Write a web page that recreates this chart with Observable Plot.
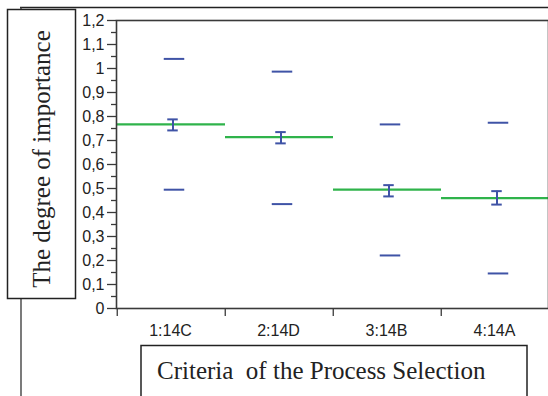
<!DOCTYPE html>
<html>
<head>
<meta charset="utf-8">
<script src="https://cdn.jsdelivr.net/npm/d3@7"></script>
<script src="https://cdn.jsdelivr.net/npm/@observablehq/plot@0.6"></script>
<style>
  html, body { margin: 0; padding: 0; background: #fff; overflow: hidden; }
  #chart { position: relative; width: 548px; height: 396px; overflow: hidden; }
  #chart svg { overflow: hidden; }
</style>
</head>
<body>
<div id="chart"></div>
<script>
// ---- data ----
const categories = ["1:14C", "2:14D", "3:14B", "4:14A"];
const means      = [0.767, 0.714, 0.495, 0.460];
const errHigh    = [0.788, 0.735, 0.514, 0.489];
const errLow     = [0.742, 0.688, 0.467, 0.433];
const upper      = [1.040, 0.987, 0.767, 0.774];
const lower      = [0.495, 0.435, 0.221, 0.146];
const yTicks      = [0, 0.1, 0.2, 0.3, 0.4, 0.5, 0.6, 0.7, 0.8, 0.9, 1, 1.1, 1.2];
const yTickLabels = ["0", "0,1", "0,2", "0,3", "0,4", "0,5", "0,6", "0,7", "0,8", "0,9", "1", "1,1", "1,2"];
const yTitle = "The degree of importance";
const xTitle = "Criteria  of the Process Selection";

const rows = categories.map((c, i) => ({
  cat: c, mean: means[i], eHi: errHigh[i], eLo: errLow[i], up: upper[i], lo: lower[i]
}));

// ---- layout ----
const X0 = 116, X1 = 550, band = (X1 - X0) / categories.length;
const blue = "#3f53a6", green = "#2fb34b", axisCol = "#3a3a3a";
const dashW = 21, capW = 11;
const minorTicks = d3.range(0.05, 1.2, 0.1);

const chart = Plot.plot({
  width: 548,
  height: 396,
  marginLeft: X0, marginRight: 0, marginTop: 20, marginBottom: 88,
  style: { fontFamily: "'Liberation Sans', Arial, sans-serif", fontSize: "16px", color: "#222", background: "#fff" },
  x: { domain: categories, range: [X0, X1], padding: 0, axis: null },
  y: { domain: [0, 1.2], range: [308, 20], axis: null },
  marks: [
    // mean lines (green) across each band
    Plot.tickY(rows, { x: "cat", y: "mean", stroke: green, strokeWidth: 2.2 }),
    // upper / lower dashes
    Plot.tickY(rows, { x: "cat", y: "up", stroke: blue, strokeWidth: 2,
      insetLeft: (band - dashW) / 2, insetRight: (band - dashW) / 2, dx: 3 }),
    Plot.tickY(rows, { x: "cat", y: "lo", stroke: blue, strokeWidth: 2,
      insetLeft: (band - dashW) / 2, insetRight: (band - dashW) / 2, dx: 3 }),
    // error bars
    Plot.ruleX(rows, { x: "cat", y1: "eLo", y2: "eHi", stroke: blue, strokeWidth: 2, dx: 1.5 }),
    Plot.tickY(rows, { x: "cat", y: "eHi", stroke: blue, strokeWidth: 2,
      insetLeft: (band - capW) / 2, insetRight: (band - capW) / 2, dx: 1.5 }),
    Plot.tickY(rows, { x: "cat", y: "eLo", stroke: blue, strokeWidth: 2,
      insetLeft: (band - capW) / 2, insetRight: (band - capW) / 2, dx: 1.5 }),
    // axes
    Plot.axisY({ ticks: minorTicks, tickSize: 5, tickFormat: () => "", stroke: axisCol, strokeWidth: 1.3 }),
    Plot.axisY({ ticks: yTicks, tickSize: 9, tickPadding: 3, stroke: axisCol, strokeWidth: 1.3,
      tickFormat: d => yTickLabels[yTicks.findIndex(t => Math.abs(t - d) < 1e-9)],
      fontSize: 16, fill: "#222" }),
    Plot.axisX({ tickSize: 8, tickFormat: () => "", dx: -band / 2, stroke: axisCol, strokeWidth: 1.3 }),
    Plot.axisX({ tickSize: 0, tickPadding: 16, fontSize: 16, fill: "#222", dx: -1 }),
    Plot.frame({ stroke: axisCol, strokeWidth: 1.6 })
  ]
});

document.getElementById("chart").appendChild(chart);

// ---- boxed titles and outer frame lines ----
const svg = d3.select(chart);
const g = svg.append("g").attr("class", "overlay");
g.append("line").attr("x1", 20).attr("y1", 7.5).attr("x2", 548).attr("y2", 7.5)
  .attr("stroke", "#222").attr("stroke-width", 1.3);
g.append("line").attr("x1", 21).attr("y1", 7).attr("x2", 21).attr("y2", 396)
  .attr("stroke", "#333").attr("stroke-width", 1.3);
g.append("rect").attr("x", 7.5).attr("y", 9.5).attr("width", 68).attr("height", 289)
  .attr("fill", "#fff").attr("stroke", "#222").attr("stroke-width", 1.5);
g.append("text").attr("transform", "translate(50,159) rotate(-90)")
  .attr("text-anchor", "middle")
  .style("font-family", "'Liberation Serif', 'Times New Roman', serif")
  .style("font-size", "25px").attr("fill", "#222").text(yTitle);
g.append("rect").attr("x", 141).attr("y", 345.5).attr("width", 386).attr("height", 70)
  .attr("fill", "#fff").attr("stroke", "#222").attr("stroke-width", 1.5);
g.append("text").attr("x", 157).attr("y", 379)
  .attr("text-anchor", "start")
  .style("white-space", "pre")
  .style("font-family", "'Liberation Serif', 'Times New Roman', serif")
  .style("font-size", "25px").attr("fill", "#222").text(xTitle);
</script>
</body>
</html>
